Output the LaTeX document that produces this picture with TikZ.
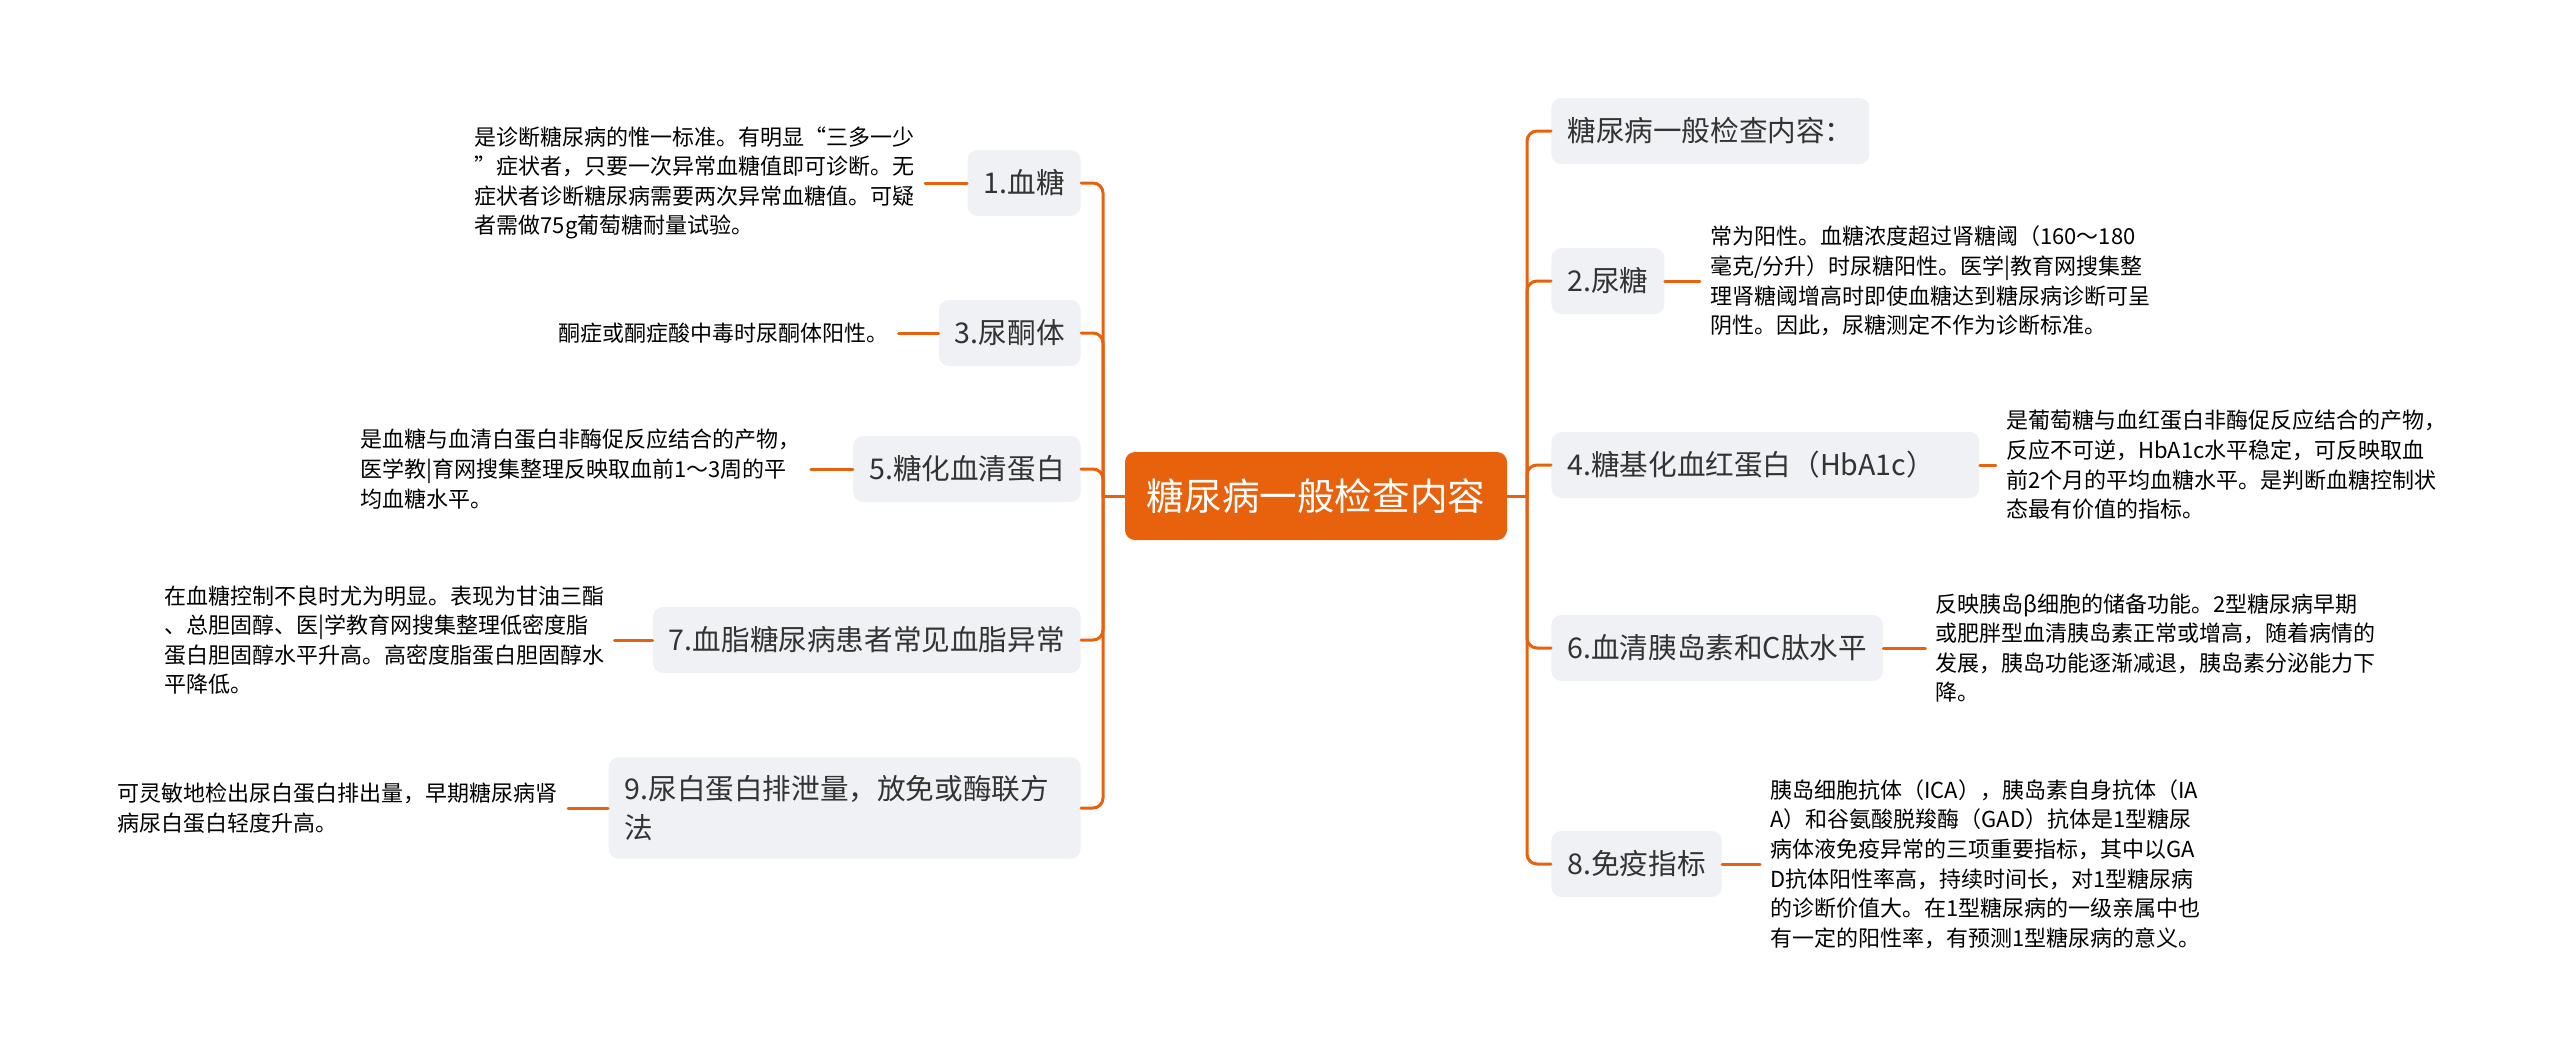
\documentclass[tikz,border=0pt]{standalone}
\usepackage{fontspec}
\setmainfont{Noto Sans CJK SC}
\definecolor{mmorange}{HTML}{E8610C}
\definecolor{mmgray}{HTML}{EFF1F4}
\definecolor{mmtext}{HTML}{333333}

\begin{document}
\begin{tikzpicture}[x=0.5pt, y=-0.5pt, line cap=round, line join=round,
    root/.style={fill=mmorange, text=white, rounded corners=5pt, minimum height=44pt, minimum width=191pt, inner xsep=10pt, font=\fontsize{18.8}{22}\selectfont},
    topic/.style={fill=mmgray, text=mmtext, rounded corners=5pt, minimum height=33pt, inner xsep=8pt, inner ysep=9pt, align=left, font=\fontsize{14.3}{19.5}\selectfont},
    leaf/.style={text=black, inner xsep=5pt, inner ysep=0pt, align=left, font=\fontsize{11}{14.8}\selectfont},
    branch/.style={draw=mmorange, line width=1.5pt, rounded corners=5pt}]
    % page size and background
    \fill[white] (0,0) rectangle (2560,1057);
    \useasboundingbox (0,0) rectangle (2560,1057);

    % central topic and the two trunks
    \node[root] (root) at (1316,496) {糖尿病一般检查内容};
    \coordinate (ltrunk) at (1103,496);
    \coordinate (rtrunk) at (1527,496);

    % left topics
    \node[topic, anchor=east] (t1) at (1081,183) {1.血糖};
    \node[topic, anchor=east] (t3) at (1081,333) {3.尿酮体};
    \node[topic, anchor=east] (t5) at (1081,469) {5.糖化血清蛋白};
    \node[topic, anchor=east] (t7) at (1081,640) {7.血脂糖尿病患者常见血脂异常};
    \node[topic, anchor=east, text width=220pt] (t9) at (1081,808) {9.尿白蛋白排泄量，放免或酶联方\\法};

    % right topics
    \node[topic, anchor=west] (t0) at (1551,131) {糖尿病一般检查内容：};
    \node[topic, anchor=west] (t2) at (1551,281) {2.尿糖};
    \node[topic, anchor=west, text width=198pt] (t4) at (1551,465) {4.糖基化血红蛋白（HbA1c）};
    \node[topic, anchor=west] (t6) at (1551,648) {6.血清胰岛素和C肽水平};
    \node[topic, anchor=west] (t8) at (1551,864) {8.免疫指标};

    % left details
    \node[leaf, anchor=east] (l1) at ([xshift=-21pt]t1.west) {是诊断糖尿病的惟一标准。有明显“三多一少\\”症状者，只要一次异常血糖值即可诊断。无\\症状者诊断糖尿病需要两次异常血糖值。可疑\\者需做75g葡萄糖耐量试验。};
    \node[leaf, anchor=east] (l3) at ([xshift=-20pt]t3.west) {酮症或酮症酸中毒时尿酮体阳性。};
    \node[leaf, anchor=east] (l5) at ([xshift=-21pt]t5.west) {是血糖与血清白蛋白非酶促反应结合的产物，\\医学教|育网搜集整理反映取血前1～3周的平\\均血糖水平。};
    \node[leaf, anchor=east] (l7) at ([xshift=-19pt]t7.west) {在血糖控制不良时尤为明显。表现为甘油三酯\\、总胆固醇、医|学教育网搜集整理低密度脂\\蛋白胆固醇水平升高。高密度脂蛋白胆固醇水\\平降低。};
    \node[leaf, anchor=east] (l9) at ([xshift=-20pt]t9.west) {可灵敏地检出尿白蛋白排出量，早期糖尿病肾\\病尿白蛋白轻度升高。};

    % right details
    \node[leaf, anchor=west] (r2) at ([xshift=17.5pt]t2.east) {常为阳性。血糖浓度超过肾糖阈（160～180\\毫克/分升）时尿糖阳性。医学|教育网搜集整\\理肾糖阈增高时即使血糖达到糖尿病诊断可呈\\阴性。因此，尿糖测定不作为诊断标准。};
    \node[leaf, anchor=west] (r4) at ([xshift=8pt]t4.east) {是葡萄糖与血红蛋白非酶促反应结合的产物，\\反应不可逆，HbA1c水平稳定，可反映取血\\前2个月的平均血糖水平。是判断血糖控制状\\态最有价值的指标。};
    \node[leaf, anchor=west] (r6) at ([xshift=21pt]t6.east) {反映胰岛β细胞的储备功能。2型糖尿病早期\\或肥胖型血清胰岛素正常或增高，随着病情的\\发展，胰岛功能逐渐减退，胰岛素分泌能力下\\降。};
    \node[leaf, anchor=west] (r8) at ([xshift=19pt]t8.east) {胰岛细胞抗体（ICA），胰岛素自身抗体（IA\\A）和谷氨酸脱羧酶（GAD）抗体是1型糖尿\\病体液免疫异常的三项重要指标，其中以GA\\D抗体阳性率高，持续时间长，对1型糖尿病\\的诊断价值大。在1型糖尿病的一级亲属中也\\有一定的阳性率，有预测1型糖尿病的意义。};

    % branches on the left
    \draw[branch] (root.west) -- (ltrunk);
    \draw[branch] (ltrunk) |- (t1.east);
    \draw[branch] (ltrunk) |- (t3.east);
    \draw[branch] (ltrunk) |- (t5.east);
    \draw[branch] (ltrunk) |- (t7.east);
    \draw[branch] (ltrunk) |- (t9.east);
    \draw[branch] (t1.west) -- (l1.east);
    \draw[branch] (t3.west) -- (l3.east);
    \draw[branch] (t5.west) -- (l5.east);
    \draw[branch] (t7.west) -- (l7.east);
    \draw[branch] (t9.west) -- (l9.east);

    % branches on the right
    \draw[branch] (root.east) -- (rtrunk);
    \draw[branch] (rtrunk) |- (t0.west);
    \draw[branch] (rtrunk) |- (t2.west);
    \draw[branch] (rtrunk) |- (t4.west);
    \draw[branch] (rtrunk) |- (t6.west);
    \draw[branch] (rtrunk) |- (t8.west);
    \draw[branch] (t2.east) -- (r2.west);
    \draw[branch] (t4.east) -- (r4.west);
    \draw[branch] (t6.east) -- (r6.west);
    \draw[branch] (t8.east) -- (r8.west);
\end{tikzpicture}
\end{document}
